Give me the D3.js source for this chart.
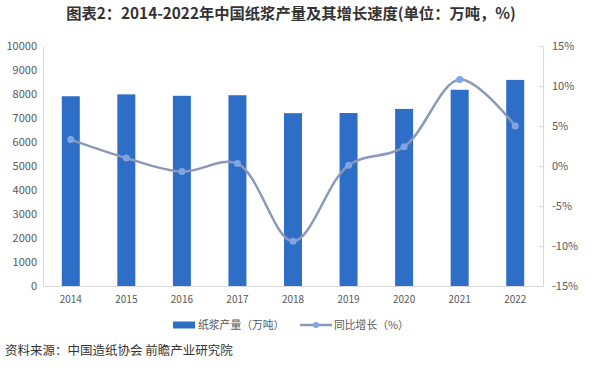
<!DOCTYPE html>
<html>
<head>
<meta charset="utf-8">
<script src="https://cdn.jsdelivr.net/npm/d3@7"></script>
<style>
  body { margin: 0; background: #fff; }
  svg text { font-family: "Noto Sans CJK SC", "Noto Sans", sans-serif; }
</style>
</head>
<body>
<script>
// data
const years = ["2014", "2015", "2016", "2017", "2018", "2019", "2020", "2021", "2022"];
const output = [7906, 7984, 7925, 7949, 7201, 7207, 7378, 8177, 8587];
const growth = [3.3, 1.0, -0.7, 0.3, -9.4, 0.1, 2.4, 10.8, 5.0];
const leftTicks = [0, 1000, 2000, 3000, 4000, 5000, 6000, 7000, 8000, 9000, 10000];
const rightTicks = [-15, -10, -5, 0, 5, 10, 15];

const w = 592, h = 370;
const padL = 43, padR = 543, padT = 46, padB = 286;

const svg = d3.select("body").append("svg")
  .attr("width", w)
  .attr("height", h);

//title
svg.append("text")
  .attr("x", 291)
  .attr("y", 19)
  .attr("text-anchor", "middle")
  .style("font-size", "15.3px")
  .style("font-weight", "bold")
  .attr("fill", "#333")
  .text("图表2：2014-2022年中国纸浆产量及其增长速度(单位：万吨，%)");

const x = d3.scaleBand().domain(years).range([padL, padR]);
const yL = d3.scaleLinear().domain([0, 10000]).range([padB, padT]);
const yR = d3.scaleLinear().domain([-15, 15]).range([padB, padT]);

// left axis
const axL = svg.append("g")
  .attr("transform", "translate(" + padL + ",0)")
  .call(d3.axisLeft(yL).tickValues(leftTicks).tickFormat(d3.format("d")).tickSize(0).tickPadding(6));
axL.select(".domain").attr("stroke", "#d9d9d9");
axL.selectAll("text").style("font-size", "11px").attr("fill", "#595959");

// right axis
const axR = svg.append("g")
  .attr("transform", "translate(" + padR + ",0)")
  .call(d3.axisRight(yR).tickValues(rightTicks).tickFormat(d => d + "%").tickSize(0).tickPadding(9));
axR.select(".domain").attr("stroke", "#d9d9d9");
axR.selectAll("text").style("font-size", "11px").attr("fill", "#595959");
axR.selectAll(".tick").append("line")
  .attr("x1", -4).attr("x2", 0)
  .attr("stroke", "#d9d9d9");

// bottom axis
const axB = svg.append("g")
  .attr("transform", "translate(0," + padB + ")")
  .call(d3.axisBottom(x).tickSize(0).tickPadding(10));
axB.select(".domain").attr("stroke", "#d9d9d9");
axB.selectAll("text").style("font-size", "10px").attr("fill", "#595959");

// bars
const bw = 18;
svg.selectAll("rect.bar")
  .data(output)
  .enter()
  .append("rect")
  .attr("class", "bar")
  .attr("x", (d, i) => x(years[i]) + x.bandwidth() / 2 - bw / 2)
  .attr("y", d => yL(d))
  .attr("width", bw)
  .attr("height", d => padB - yL(d))
  .attr("fill", "#2f6ec6");

// growth line
const line = d3.line()
  .x((d, i) => x(years[i]) + x.bandwidth() / 2)
  .y(d => yR(d))
  .curve(d3.curveCatmullRom.alpha(0.5));

svg.append("path")
  .datum(growth)
  .attr("d", line)
  .attr("fill", "none")
  .attr("stroke", "#8d98b8")
  .attr("stroke-width", 2.5);

svg.selectAll("circle.pt")
  .data(growth)
  .enter()
  .append("circle")
  .attr("class", "pt")
  .attr("cx", (d, i) => x(years[i]) + x.bandwidth() / 2)
  .attr("cy", d => yR(d))
  .attr("r", 3.5)
  .attr("fill", "#7ea6e6");

// legend
const lg = svg.append("g").attr("transform", "translate(0,325)");
lg.append("rect")
  .attr("x", 173).attr("y", -3.5)
  .attr("width", 22).attr("height", 7)
  .attr("fill", "#2f6ec6");
lg.append("text")
  .attr("x", 198).attr("y", 4)
  .style("font-size", "10.8px")
  .attr("fill", "#595959")
  .text("纸浆产量（万吨）");
lg.append("line")
  .attr("x1", 300).attr("x2", 332)
  .attr("y1", 0).attr("y2", 0)
  .attr("stroke", "#8d98b8")
  .attr("stroke-width", 2.5);
lg.append("circle")
  .attr("cx", 316).attr("cy", 0).attr("r", 3)
  .attr("fill", "#7ea6e6");
lg.append("text")
  .attr("x", 334).attr("y", 4)
  .style("font-size", "10.8px")
  .attr("fill", "#595959")
  .text("同比增长（%）");

// source
svg.append("text")
  .attr("x", 5)
  .attr("y", 355)
  .style("font-size", "12.5px")
  .attr("fill", "#333")
  .text("资料来源：中国造纸协会 前瞻产业研究院");
</script>
</body>
</html>
